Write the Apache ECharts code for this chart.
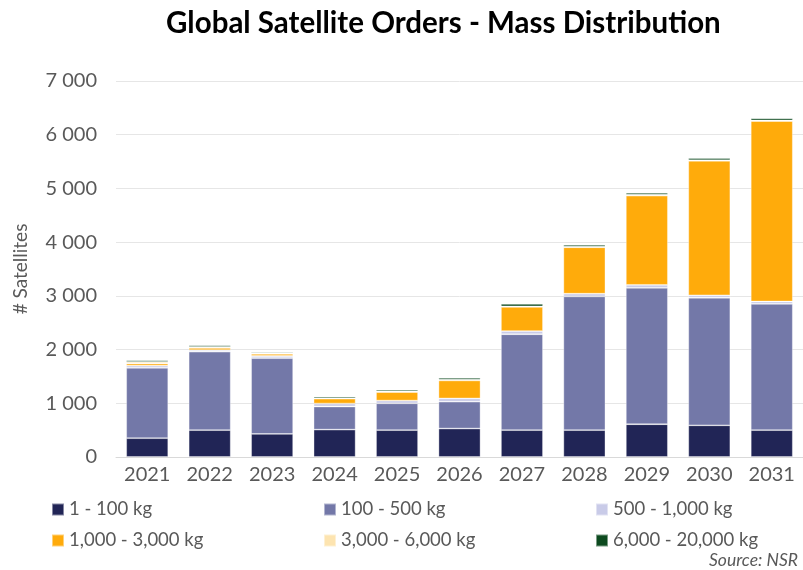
<!DOCTYPE html>
<html>
<head>
<meta charset="utf-8">
<script src="https://cdn.jsdelivr.net/npm/echarts@6/dist/echarts.min.js"></script>
<style>
  html, body { margin: 0; padding: 0; background: #ffffff; }
  #chart { width: 803px; height: 570px; }
</style>
</head>
<body>
<div id="chart"></div>
<script>
// Satellite orders per year, split by satellite mass class
const years = ['2021', '2022', '2023', '2024', '2025', '2026', '2027', '2028', '2029', '2030', '2031'];

const mass1to100 =     [350,  500,  430,  510,  500,  530,  500,  500,  610,  590,  500];
const mass100to500 =   [1310, 1460, 1410, 430,  500,  500,  1785, 2490, 2540, 2375, 2350];
const mass500to1000 =  [40,   30,   40,   55,   50,   60,   60,   50,   55,   45,   45];
const mass1000to3000 = [40,   40,   40,   90,   160,  335,  450,  865,  1660, 2505, 3360];
const mass3000to6000 = [30,   20,   15,   10,   10,   15,   10,   10,   20,   10,   10];
const mass6000to20000 = [30,  30,   20,   30,   30,   35,   45,   35,   35,   40,   40];

const seriesNames = ['1 - 100 kg', '100 - 500 kg', '500 - 1,000 kg', '1,000 - 3,000 kg', '3,000 - 6,000 kg', '6,000 - 20,000 kg'];
const seriesData = [mass1to100, mass100to500, mass500to1000, mass1000to3000, mass3000to6000, mass6000to20000];
const seriesColors = ['#212556', '#7378a8', '#c9cbe8', '#ffab0b', '#fde4b0', '#0d4a1f'];

const yTicks = { min: 0, max: 7000, interval: 1000 };

const font = 'Lato, "Open Sans", sans-serif';
const textColor = '#595959';

// One legend block per entry so the 3 x 2 layout lines up in columns
const legendPos = [
  [51, 500], [323, 500], [595, 500],
  [51, 531], [323, 531], [595, 531]
];
const legends = seriesNames.map((name, i) => ({
  data: [name],
  left: legendPos[i][0],
  top: legendPos[i][1],
  padding: 0,
  itemWidth: 12,
  itemHeight: 12,
  icon: 'rect',
  selectedMode: false,
  textStyle: { fontFamily: font, fontSize: 18.5, color: textColor }
}));

const chart = echarts.init(document.getElementById('chart'), null, { renderer: 'canvas' });

chart.setOption({
  backgroundColor: '#ffffff',
  animation: false,
  title: {
    text: 'Global Satellite Orders - Mass Distribution',
    left: 161,
    top: 3,
    textStyle: { fontFamily: font, fontSize: 29.5, fontWeight: 'bold', color: '#000000' }
  },
  legend: legends,
  grid: { left: 116, top: 81, width: 696, height: 376, containLabel: false },
  xAxis: {
    type: 'category',
    data: years,
    axisTick: { show: false },
    axisLine: { show: true, lineStyle: { color: '#d9d9d9', width: 1 } },
    axisLabel: { fontFamily: font, fontSize: 20, color: textColor, margin: 8 }
  },
  yAxis: {
    type: 'value',
    min: yTicks.min,
    max: yTicks.max,
    interval: yTicks.interval,
    name: '# Satellites',
    nameLocation: 'middle',
    nameGap: 86,
    nameRotate: 90,
    nameTextStyle: { fontFamily: font, fontSize: 19, color: textColor },
    axisLine: { show: false },
    axisTick: { show: false },
    splitLine: { lineStyle: { color: '#e6e6e6', width: 1 } },
    axisLabel: {
      fontFamily: font, fontSize: 20, color: textColor, margin: 19,
      formatter: v => String(v).replace(/\B(?=(\d{3})+(?!\d))/g, ' ')
    }
  },
  series: seriesNames.map((name, i) => ({
    name: name,
    type: 'bar',
    stack: 'orders',
    data: seriesData[i],
    barWidth: 42,
    itemStyle: {
      color: seriesColors[i],
      borderColor: 'rgba(255,255,255,0.45)',
      borderWidth: 0.8
    }
  }))
});
</script>
<div style="position:absolute;left:0;top:0;width:803px;height:570px;pointer-events:none;">
  <span style="position:absolute;right:5px;top:551px;line-height:1;font-family:Lato,'Open Sans',sans-serif;font-style:italic;font-size:17.5px;color:#595959;">Source: NSR</span>
</div>
</body>
</html>
